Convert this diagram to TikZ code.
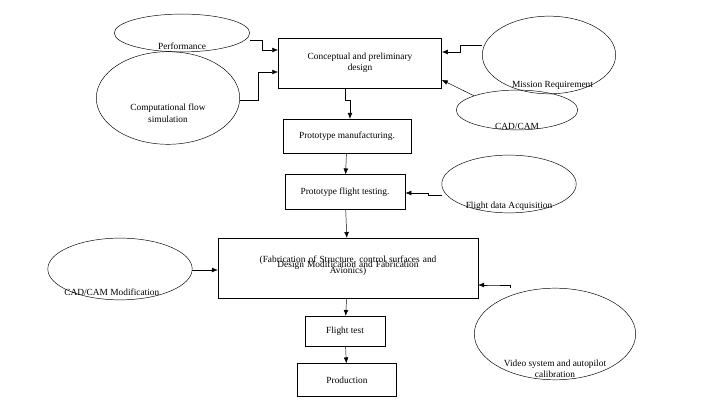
\documentclass[tikz,border=0pt]{standalone}
\usepackage{fontspec}
\setmainfont{Liberation Serif}
\usetikzlibrary{shapes,arrows,arrows.meta,positioning,calc}

\begin{document}
\begin{tikzpicture}[
    x=0.03cm, y=-0.03cm,
    every node/.style={font=\fontsize{8}{9.5}\selectfont},
    stage/.style={rectangle, draw=black, inner sep=0pt, align=center},
    oval/.style={ellipse, draw=black, inner sep=0pt},
    arrow/.style={-{Latex[length=5pt,width=4pt]}, thin}
]
\useasboundingbox (0,0) rectangle (723,402);

% Main flow
\node[stage, minimum width=164*0.85pt, minimum height=50*0.85pt] (concept) at (360,63) {Conceptual and preliminary\\design};
\node[stage, minimum width=129*0.85pt, minimum height=34*0.85pt] (manuf) at (347,136) {Prototype manufacturing.};
\node[stage, minimum width=121*0.85pt, minimum height=35*0.85pt] (testing) at (345,192) {Prototype flight testing.};
\node[stage, minimum width=261*0.85pt, minimum height=60*0.85pt, text width=215*0.85pt] (modif) at (348,268) {\vspace*{-14pt}Design Modification and Fabrication\\(Fabrication of Structure, control surfaces and\\Avionics)};
\node[stage, minimum width=80*0.85pt, minimum height=30*0.85pt] (ftest) at (345,331) {Flight test};
\node[stage, minimum width=99*0.85pt, minimum height=33*0.85pt] (prod) at (347,380) {Production};

% Inputs
\node[oval, minimum width=136*0.85pt, minimum height=38*0.85pt, label={[yshift=-11pt]center:Performance}] (perf) at (182,33) {};
\node[oval, minimum width=144*0.85pt, minimum height=93*0.85pt, label={[yshift=-13pt, align=center]center:Computational flow\\simulation}] (cfd) at (168,98) {};
\node[oval, minimum width=134*0.85pt, minimum height=78*0.85pt, label={[yshift=-26pt, xshift=3pt]center:Mission Requirement}] (mission) at (549,55) {};
\node[oval, minimum width=122*0.85pt, minimum height=40*0.85pt, label={[yshift=-14pt]center:CAD/CAM}] (cad) at (517,110) {};
\node[oval, minimum width=135*0.85pt, minimum height=58*0.85pt, label={[yshift=-19pt]center:Flight data Acquisition}] (fdata) at (509,184) {};
\node[oval, minimum width=145*0.85pt, minimum height=62*0.85pt, label={[yshift=-20pt, xshift=-7pt]center:CAD/CAM Modification}] (cadmod) at (120,269) {};
\node[oval, minimum width=162*0.85pt, minimum height=92*0.85pt, label={[yshift=-30pt, align=center]center:Video system and autopilot\\calibration}] (video) at (555,334) {};

% Arrows
\draw[arrow] (perf.east |- 0,40) -| (262,50) -- (concept.west |- 0,50);
\draw[arrow] (cfd.east |- 0,100) -| (258,72) -- (concept.west |- 0,72);
\draw[arrow] (mission.west |- 0,45) -| (460,52) -- (concept.east |- 0,52);
\draw[arrow] (cad.north west) -- (concept.east |- 0,80);
\draw[arrow] (concept.south -| 345,0) |- (350,100) -- (manuf.north -| 350,0);
\draw[arrow] (manuf) -- (testing);
\draw[arrow] (fdata.west |- 0,195) -| (428,193) -- (testing.east |- 0,193);
\draw[arrow] (testing) -- (modif);
\draw[arrow] (cadmod.east |- 0,270) -- (modif.west |- 0,270);
\draw[arrow] (video.north -| 510,0) |- (490,285) -- (modif.east |- 0,285);
\draw[arrow] (modif) -- (ftest);
\draw[arrow] (ftest) -- (prod);

\end{tikzpicture}
\end{document}
